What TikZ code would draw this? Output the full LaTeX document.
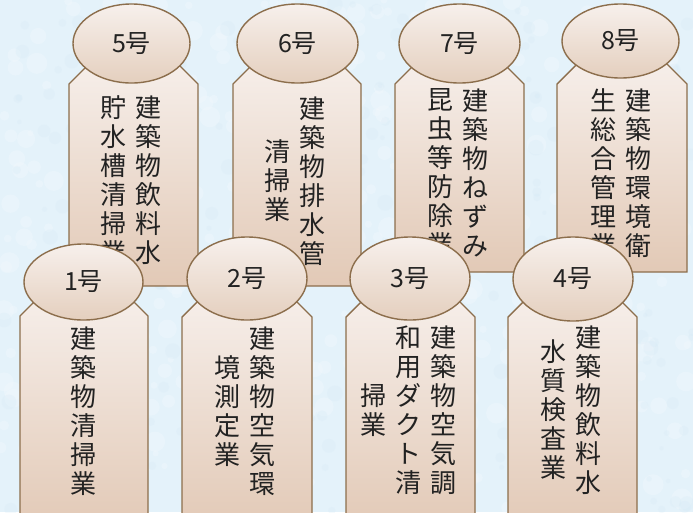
\documentclass[tikz,border=0pt]{standalone}
\usepackage{fontspec}
\newfontfamily\cjk{Noto Sans CJK JP}
\usetikzlibrary{shapes.geometric}
\definecolor{bgc}{HTML}{E4F2FA}
\definecolor{spotw}{HTML}{F7FBFE}
\definecolor{spotb}{HTML}{D2E7F5}
\definecolor{tagtop}{HTML}{F7F0EC}
\definecolor{tagbot}{HTML}{E2C9B6}
\definecolor{elltop}{HTML}{F7F0EC}
\definecolor{ellbot}{HTML}{E4CFBE}
\definecolor{brd}{HTML}{8C6E4C}
\definecolor{txt}{HTML}{222222}
\tikzset{
  tagbox/.style={draw=brd, line width=1.4pt, top color=tagtop, bottom color=tagbot, line join=miter},
  numell/.style={ellipse, draw=brd, line width=1.4pt, top color=elltop, bottom color=ellbot,
    inner sep=0pt, text=txt, font=\cjk\fontsize{25}{28}\selectfont},
  vcol/.style={inner sep=0pt, align=center, text=txt, font=\cjk\fontsize{26}{29}\selectfont},
}
\begin{document}
\begin{tikzpicture}[x=1pt,y=-1pt]
\useasboundingbox (0,0) rectangle (693,512);
\clip (0,0) rectangle (693,512);
% background
\fill[bgc] (0,0) rectangle (693,512);
\pgfmathsetseed{11}
\foreach \i in {1,...,400}{
  \pgfmathsetmacro\xx{693*rnd}\pgfmathsetmacro\yy{512*rnd}\pgfmathsetmacro\rr{3+8*rnd}
  \fill[spotw, opacity=0.28] (\xx,\yy) circle (\rr pt);
}
\foreach \i in {1,...,300}{
  \pgfmathsetmacro\xx{693*rnd}\pgfmathsetmacro\yy{512*rnd}\pgfmathsetmacro\rr{2+6*rnd}
  \fill[spotb, opacity=0.22] (\xx,\yy) circle (\rr pt);
}
% ---- top row tags ----
% 5
\path[tagbox] (69,286) -- (69,84) -- (99,54) -- (168,54) -- (198,84) -- (198,286) -- cycle;
\node[vcol] (t5a) at (148,180) {建\\築\\物\\飲\\料\\水};
\node[vcol] (t5b) at (113,180) {貯\\水\\槽\\清\\掃\\業};
% 6
\path[tagbox] (233,286) -- (233,84) -- (263,54) -- (331,54) -- (361,84) -- (361,286) -- cycle;
\node[vcol] (t6a) at (312,181) {建\\築\\物\\排\\水\\管};
\node[vcol] (t6b) at (277,181) {清\\掃\\業};
% 7
\path[tagbox] (395,272) -- (395,84) -- (425,54) -- (494,54) -- (524,84) -- (524,272) -- cycle;
\node[vcol] (t7a) at (475,173) {建\\築\\物\\ね\\ず\\み};
\node[vcol] (t7b) at (440,173) {昆\\虫\\等\\防\\除\\業};
% 8
\path[tagbox] (557,272) -- (557,84) -- (587,54) -- (657,54) -- (687,84) -- (687,272) -- cycle;
\node[vcol] (t8a) at (638,173) {建\\築\\物\\環\\境\\衛};
\node[vcol] (t8b) at (603,173) {生\\総\\合\\管\\理\\業};
% top ellipses
\node[numell, minimum width=117pt, minimum height=79pt] (e5) at (131.5,43.5) {5号};
\node[numell, minimum width=121pt, minimum height=79pt] (e6) at (297.5,43.5) {6号};
\node[numell, minimum width=121pt, minimum height=79pt] (e7) at (459.5,43.5) {7号};
\node[numell, minimum width=117pt, minimum height=74pt] (e8) at (620.5,41) {8号};
% ---- bottom row tags ----
% 1
\path[tagbox] (20,530) -- (20,316) -- (50,286) -- (118,286) -- (148,316) -- (148,530) -- cycle;
\node[vcol] (t1a) at (83,411) {建\\築\\物\\清\\掃\\業};
% 2
\path[tagbox] (182,530) -- (182,317) -- (212,287) -- (282,287) -- (312,317) -- (312,530) -- cycle;
\node[vcol] (t2a) at (262,411) {建\\築\\物\\空\\気\\環};
\node[vcol] (t2b) at (227,411) {境\\測\\定\\業};
% 3
\path[tagbox] (346,530) -- (346,317) -- (376,287) -- (445,287) -- (475,317) -- (475,530) -- cycle;
\node[vcol] (t3a) at (443,410) {建\\築\\物\\空\\気\\調};
\node[vcol] (t3b) at (408,410) {和\\用\\ダ\\ク\\ト\\清};
\node[vcol] (t3c) at (373,410) {掃\\業};
% 4
\path[tagbox] (508,530) -- (508,317) -- (538,287) -- (607,287) -- (637,317) -- (637,530) -- cycle;
\node[vcol] (t4a) at (588,410) {建\\築\\物\\飲\\料\\水};
\node[vcol] (t4b) at (553,410) {水\\質\\検\\査\\業};
% bottom ellipses
\node[numell, minimum width=119pt, minimum height=76pt] (e1) at (83.5,282) {1号};
\node[numell, minimum width=120pt, minimum height=83pt] (e2) at (247,278.5) {2号};
\node[numell, minimum width=120pt, minimum height=83pt] (e3) at (410,278.5) {3号};
\node[numell, minimum width=120pt, minimum height=84pt] (e4) at (573,279) {4号};
\end{tikzpicture}
\end{document}
